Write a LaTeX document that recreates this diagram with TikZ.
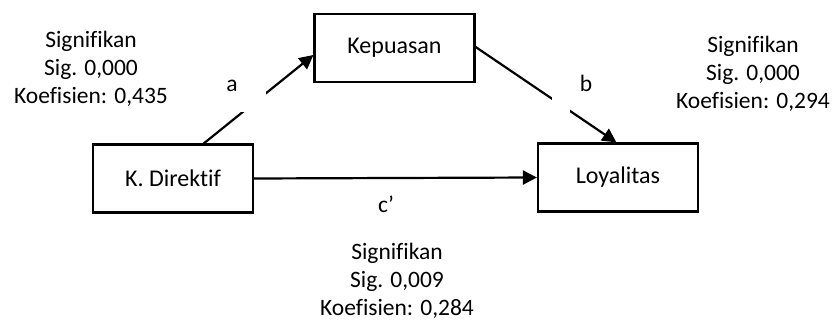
\documentclass[tikz,border=0pt]{standalone}
\usepackage{fontspec}
\setmainfont{Carlito}[Ligatures=NoCommon,RawFeature=-liga]
\usetikzlibrary{arrows.meta,calc}
\begin{document}
\begin{tikzpicture}[x=1pt,y=-1pt,
  box/.style={draw,line width=2.2pt,minimum width=160pt,minimum height=68pt,inner sep=0pt,font=\fontsize{24}{28}\selectfont},
  conn/.style={line width=2.2pt,-{Triangle[length=14pt,width=14pt]}},
  txt/.style={align=center,inner sep=0pt,font=\fontsize{23.5}{28}\selectfont},
  lbl/.style={inner sep=0pt,anchor=base,font=\fontsize{23.5}{28}\selectfont}]
\useasboundingbox (0,0) rectangle (835,323);
\node[box] (kep) at (394.5,48) {Kepuasan};
\node[box] (kd) at (173,178.5) {K. Direktif};
\node[box] (loy) at (618,177.5) {Loyalitas};
\coordinate (aS) at ($(kd.north west)!0.69!(kd.north east)$);
\coordinate (aE) at ($(kep.north west)!0.6!(kep.south west)$);
\coordinate (bS) at ($(kep.north east)!0.485!(kep.south east)$);
\coordinate (bE) at ($(loy.north west)!0.49!(loy.north east)$);
\draw[conn] (aS) -- (aE);
\draw[conn] (bS) -- (bE);
\draw[conn] (kd.east) -- (loy.west);
\fill[white] (241,82) rectangle (266,112);
\fill[white] (552,90) rectangle (570,120);
\node[lbl] (la) at (232,92) {a};
\node[lbl] (lb) at (586,92) {b};
\node[lbl] (lc) at (386,213) {c’};
\node[txt] (tl) at (91,69) {Signifikan\\Sig. 0,000\\Koefisien: 0,435};
\node[txt] (tr) at (753,74) {Signifikan\\Sig. 0,000\\Koefisien: 0,294};
\node[txt] (tb) at (397,281) {Signifikan\\Sig. 0,009\\Koefisien: 0,284};
\end{tikzpicture}
\end{document}
